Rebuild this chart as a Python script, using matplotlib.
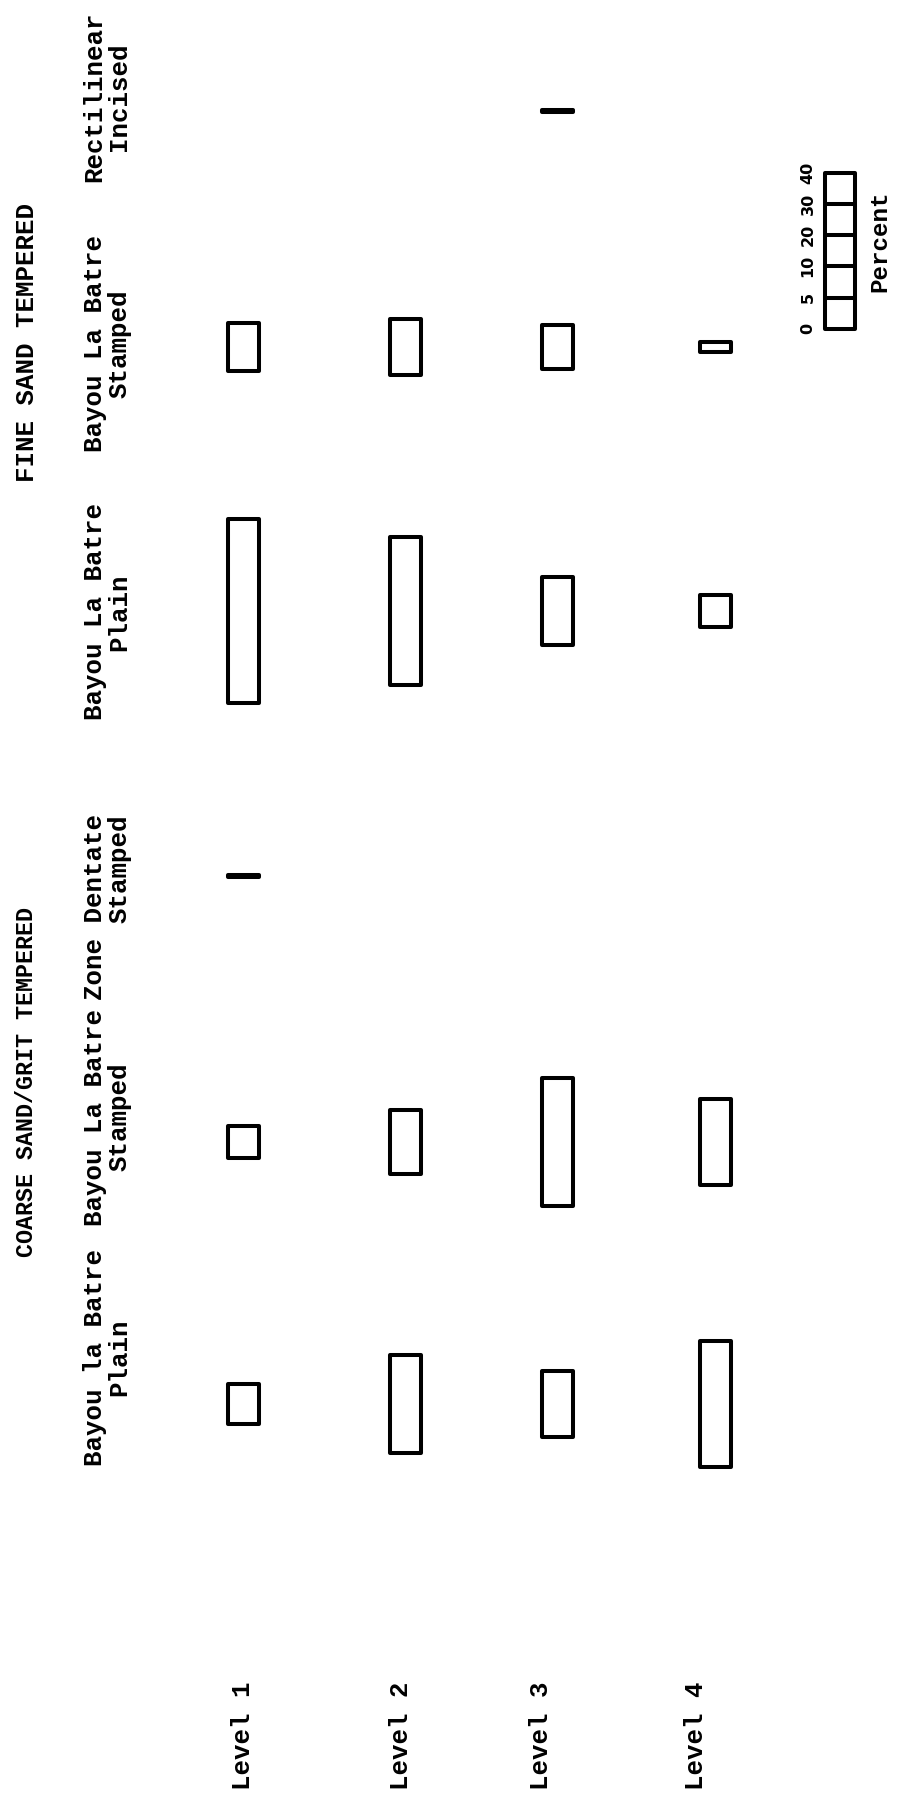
import matplotlib
matplotlib.use("Agg")
import matplotlib.pyplot as plt

# levels (rows of the original landscape table)
levels = ["Level 1", "Level 2", "Level 3", "Level 4"]

# percent of each pottery type per level
coarse_plain = [10.3, 25.0, 16.9, 32.3]
coarse_stamped = [8.1, 16.3, 32.9, 22.2]
zone_dentate = [0.3, 0, 0, 0]
fine_plain = [47.4, 38.2, 17.3, 8.2]
fine_stamped = [12.5, 14.5, 11.5, 2.8]
rectilinear = [0, 0, 0.3, 0]

type_names = ["Rectilinear\nIncised", "Bayou La Batre\nStamped", "Bayou La Batre\nPlain",
              "Zone Dentate\nStamped", "Bayou La Batre\nStamped", "Bayou la Batre\nPlain"]
groups = ["FINE SAND TEMPERED", "COARSE SAND/GRIT TEMPERED"]
scale_ticks = [0, 5, 10, 20, 30, 40]

##### LAYOUT (pixels of the 902x1805 page) #####
W, H = 902, 1805
PX = 3.9                                   # pixels per percent
level_x = [243, 405, 557, 715]             # bar centres
level_label_x = [243, 401, 541, 696]
col_y = [111, 347, 611, 876, 1142, 1404]   # bar centres along the page
head_y = [97, 344, 612, 907, 1117, 1357]
head_align = ["center", "center", "center", "right", "center", "center"]
group_y = [342, 1082]
group_size = [18.5, 16.8]
scale_x = 840
scale_zero = 328.7

MONO = "Liberation Mono"

fig = plt.figure(figsize=(W / 100, H / 100), dpi=100)
ax = fig.add_axes([0, 0, 1, 1])
ax.set_xlim(0, W)
ax.set_ylim(H / PX, 0)
ax.axis("off")


def fpos(x, y):
    return x / W, 1 - y / H


series = [rectilinear, fine_stamped, fine_plain, zone_dentate, coarse_stamped, coarse_plain]
for vals, cy in zip(series, col_y):
    for lx, v in zip(level_x, vals):
        if v <= 0:
            continue
        ax.bar(lx, v, width=31, bottom=cy / PX - v / 2, fill=False,
               edgecolor="black", linewidth=2.9, joinstyle="round")

# column headers
for name, hy, al in zip(type_names, head_y, head_align):
    fig.text(*fpos(107, hy), name, rotation=90, ha="center", va="center",
             multialignment=al, family=MONO, weight="bold", fontsize=18.5,
             linespacing=1.05)

for g, gy, gs in zip(groups, group_y, group_size):
    fig.text(*fpos(27, gy), g, rotation=90, ha="center", va="center",
             family=MONO, weight="bold", fontsize=gs)

for lab, lx in zip(levels, level_label_x):
    fig.text(*fpos(lx, 1736), lab, rotation=90, ha="center", va="center",
             family=MONO, weight="bold", fontsize=18.5)

# percent scale
top = scale_zero / PX - scale_ticks[-1]
ax.bar(scale_x, scale_ticks[-1], width=30, bottom=top, fill=False,
       edgecolor="black", linewidth=2.9, joinstyle="round")
step = scale_ticks[-1] / (len(scale_ticks) - 1)
for i, t in enumerate(scale_ticks):
    yy = scale_zero / PX - i * step
    if 0 < i < len(scale_ticks) - 1:
        ax.hlines(yy, scale_x - 15, scale_x + 15, color="black", linewidth=2.9)
    fig.text(*fpos(808, yy * PX), str(t), rotation=90, ha="center", va="center",
             family="DejaVu Sans", weight="bold", fontsize=11.5)
fig.text(*fpos(880, 241), "Percent", rotation=90, ha="center", va="center",
         family=MONO, weight="bold", fontsize=17.5)

fig.savefig("out.png", dpi=100, facecolor="white")
